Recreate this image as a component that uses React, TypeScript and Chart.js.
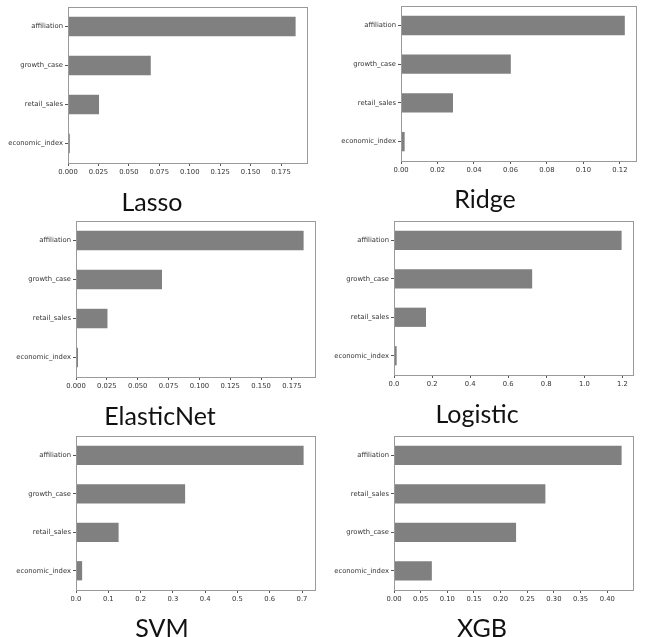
import React, { useEffect, useRef } from "react";
import { Chart, registerables } from "chart.js";
Chart.register(...registerables);

// ---- Data ----
const lassoLabels = ["affiliation", "growth_case", "retail_sales", "economic_index"];
const lassoValues = [0.187, 0.068, 0.0255, 0.0015];
const lassoTicks = [0, 0.025, 0.05, 0.075, 0.1, 0.125, 0.15, 0.175];

const ridgeLabels = ["affiliation", "growth_case", "retail_sales", "economic_index"];
const ridgeValues = [0.1227, 0.0602, 0.0285, 0.002];
const ridgeTicks = [0, 0.02, 0.04, 0.06, 0.08, 0.1, 0.12];

const elasticLabels = ["affiliation", "growth_case", "retail_sales", "economic_index"];
const elasticValues = [0.1845, 0.0697, 0.0255, 0.0016];
const elasticTicks = [0, 0.025, 0.05, 0.075, 0.1, 0.125, 0.15, 0.175];

const logisticLabels = ["affiliation", "growth_case", "retail_sales", "economic_index"];
const logisticValues = [1.196, 0.726, 0.168, 0.014];
const logisticTicks = [0, 0.2, 0.4, 0.6, 0.8, 1.0, 1.2];

const svmLabels = ["affiliation", "growth_case", "retail_sales", "economic_index"];
const svmValues = [0.705, 0.338, 0.132, 0.019];
const svmTicks = [0, 0.1, 0.2, 0.3, 0.4, 0.5, 0.6, 0.7];

const xgbLabels = ["affiliation", "retail_sales", "growth_case", "economic_index"];
const xgbValues = [0.427, 0.284, 0.229, 0.071];
const xgbTicks = [0, 0.05, 0.1, 0.15, 0.2, 0.25, 0.3, 0.35, 0.4];

const titles = ["Lasso", "Ridge", "ElasticNet", "Logistic", "SVM", "XGB"];

type Area = { l: number; r: number; t: number; b: number };
type PanelProps = {
  left: number;
  top: number;
  width: number;
  height: number;
  area: Area;
  title: string;
  titleX: number;
  titleY: number;
  labels: string[];
  values: number[];
  ticks: number[];
  decimals: number;
};

const tickFont = { family: "'DejaVu Sans', sans-serif", size: 6.8 };
const tickColor = "#333";

function Panel(p: PanelProps) {
  const ref = useRef<HTMLCanvasElement | null>(null);
  useEffect(() => {
    if (!ref.current) return;
    const max = Math.max(...p.values) * 1.05;
    const framePlugin = {
      id: "frame",
      afterDatasetsDraw(chart: any) {
        const { ctx, chartArea } = chart;
        ctx.save();
        ctx.strokeStyle = "#9a9a9a";
        ctx.lineWidth = 1;
        ctx.strokeRect(
          Math.round(chartArea.left) + 0.5,
          Math.round(chartArea.top) + 0.5,
          Math.round(chartArea.right - chartArea.left),
          Math.round(chartArea.bottom - chartArea.top)
        );
        ctx.restore();
      },
    };
    const titlePlugin = {
      id: "panelTitle",
      afterDraw(chart: any) {
        const ctx = chart.ctx;
        ctx.save();
        ctx.fillStyle = "#111";
        ctx.font = "25px Lato, 'Open Sans', sans-serif";
        ctx.textAlign = "center";
        ctx.textBaseline = "alphabetic";
        ctx.fillText(p.title, p.titleX - p.left, p.titleY - p.top);
        ctx.restore();
      },
    };
    const chart = new Chart(ref.current, {
      type: "bar",
      data: {
        labels: p.labels,
        datasets: [
          {
            data: p.values,
            backgroundColor: "#808080",
            borderWidth: 0,
            barPercentage: 0.5,
            categoryPercentage: 1,
          },
        ],
      },
      options: {
        animation: false,
        responsive: false,
        maintainAspectRatio: false,
        indexAxis: "y",
        layout: {
          padding: {
            left: 0,
            top: p.area.t - p.top,
            right: p.left + p.width - p.area.r,
            bottom: 0,
          },
        },
        plugins: {
          legend: { display: false },
          tooltip: { enabled: false },
          title: { display: false },
        },
        scales: {
          x: {
            type: "linear",
            min: 0,
            max,
            afterBuildTicks: (s: any) => {
              s.ticks = p.ticks.map((v) => ({ value: v }));
            },
            afterFit: (s: any) => {
              s.height = p.top + p.height - p.area.b;
            },
            ticks: {
              autoSkip: false,
              maxRotation: 0,
              padding: 2,
              font: tickFont,
              color: tickColor,
              callback: (v: any) => Number(v).toFixed(p.decimals),
            },
            grid: { drawOnChartArea: false, drawTicks: true, tickLength: 3, color: "#555" },
            border: { display: false },
          },
          y: {
            type: "category",
            offset: true,
            afterFit: (s: any) => {
              s.width = p.area.l - p.left;
            },
            ticks: {
              autoSkip: false,
              padding: 2,
              font: tickFont,
              color: tickColor,
            },
            grid: { drawOnChartArea: false, drawTicks: true, tickLength: 3, color: "#555", offset: false },
            border: { display: false },
          },
        },
      } as any,
      plugins: [framePlugin, titlePlugin],
    });
    return () => chart.destroy();
  }, []);
  return (
    <div style={{ position: "absolute", left: p.left, top: p.top, width: p.width, height: p.height }}>
      <canvas ref={ref} width={p.width} height={p.height} style={{ width: p.width, height: p.height, display: "block" }} />
    </div>
  );
}

export default function App() {
  return (
    <div style={{ position: "absolute", left: 0, top: 0, width: 645, height: 637, background: "#fff" }}>
      <Panel left={0} top={0} width={322} height={215} area={{ l: 68, r: 307, t: 7, b: 163 }}
        title={titles[0]} titleX={152} titleY={211} labels={lassoLabels} values={lassoValues} ticks={lassoTicks} decimals={3} />
      <Panel left={322} top={0} width={323} height={215} area={{ l: 401, r: 636, t: 5, b: 161 }}
        title={titles[1]} titleX={485} titleY={208} labels={ridgeLabels} values={ridgeValues} ticks={ridgeTicks} decimals={2} />
      <Panel left={0} top={215} width={322} height={215} area={{ l: 76, r: 315, t: 221, b: 377 }}
        title={titles[2]} titleX={160} titleY={425} labels={elasticLabels} values={elasticValues} ticks={elasticTicks} decimals={3} />
      <Panel left={322} top={215} width={323} height={215} area={{ l: 394, r: 633, t: 219, b: 375 }}
        title={titles[3]} titleX={477} titleY={423} labels={logisticLabels} values={logisticValues} ticks={logisticTicks} decimals={1} />
      <Panel left={0} top={430} width={322} height={207} area={{ l: 76, r: 315, t: 433, b: 590 }}
        title={titles[4]} titleX={162} titleY={637} labels={svmLabels} values={svmValues} ticks={svmTicks} decimals={1} />
      <Panel left={322} top={430} width={323} height={207} area={{ l: 394, r: 633, t: 433, b: 590 }}
        title={titles[5]} titleX={482} titleY={637} labels={xgbLabels} values={xgbValues} ticks={xgbTicks} decimals={2} />
    </div>
  );
}
